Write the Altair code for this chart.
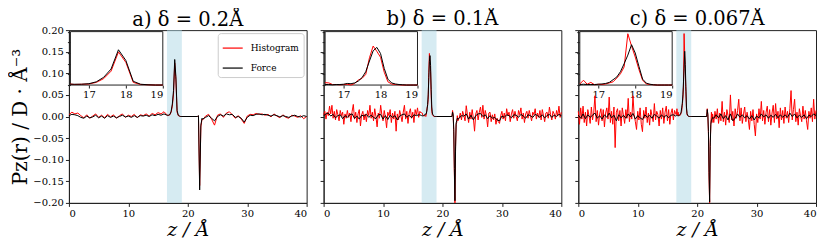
import altair as alt
import numpy as np
import pandas as pd

# ---------------- data ----------------
panel_titles = ["a) δ = 0.2Å", "b) δ = 0.1Å", "c) δ = 0.067Å"]
series_names = ["Histogram", "Force"]
series_colors = ["#ff0000", "#000000"]
x_ticks = [0, 10, 20, 30, 40]
y_ticks = [-0.20, -0.15, -0.10, -0.05, 0.00, 0.05, 0.10, 0.15, 0.20]
inset_x_ticks = [17, 18, 19]
inset_y_ticks = [0.0, 0.04, 0.08, 0.12, 0.16, 0.20]
z_domain = [0, 40]
p_domain = [-0.2, 0.2]
inset_z_domain = [16.5, 19.0]
inset_p_domain = [0.0, 0.2]
shade_band = [16.5, 19.0]

# segment grids (start z, step) for: left noise, peak, trough, right noise
grid_a_hist = [(0.0, 0.5), (16.6, 0.2), (21.6, 0.2), (22.5, 0.5)]
grid_a_force = [(0.0, 0.5), (16.6, 0.2), (21.6, 0.2), (22.5, 0.5)]
grid_b_hist = [(0.0, 0.2), (16.5, 0.1), (21.6, 0.1), (22.8, 0.2)]
grid_b_force = [(0.0, 0.4), (16.5, 0.1), (21.6, 0.1), (22.8, 0.4)]
grid_c_hist = [(0.0, 0.2), (16.5, 0.1), (21.6, 0.1), (22.8, 0.2)]
grid_c_force = [(0.0, 0.4), (16.5, 0.1), (21.6, 0.1), (22.8, 0.4)]

# ---- panel a ----
hist_a_left = [0.004, 0.010, 0.006, 0.008, 0.002, -0.003, 0.004, -0.004, 0.001, 0.006,
               -0.002, 0.003, -0.003, 0.005, -0.001, 0.004, -0.004, 0.002, 0.006, -0.002,
               0.003, 0.000, 0.005, -0.003, 0.004, 0.002, 0.006, 0.001, 0.007, 0.004,
               0.009, 0.006, 0.011, 0.004]
force_a_left = [0.002, 0.005, 0.004, 0.002, -0.002, -0.004, 0.001, -0.003, -0.001, 0.003,
                -0.003, 0.001, -0.004, 0.002, -0.002, 0.001, -0.003, 0.000, 0.003, -0.001,
                0.001, -0.002, 0.002, -0.002, 0.002, 0.001, 0.003, 0.000, 0.004, 0.002,
                0.005, 0.003, 0.006, 0.003]
hist_a_peak = [0.002, 0.003, 0.004, 0.010, 0.024, 0.052, 0.124, 0.085, 0.010, 0.002, 0.001, 0.0, 0.0]
force_a_peak = [0.003, 0.003, 0.005, 0.012, 0.029, 0.060, 0.132, 0.092, 0.014, 0.003, 0.001, 0.0, 0.0]
hist_a_trough = [0.0, 0.001, -0.160, -0.024, -0.006]
force_a_trough = [0.0, 0.002, -0.170, -0.020, -0.004]
hist_a_right = [-0.008, 0.001, 0.005, -0.006, -0.020, 0.003, 0.006, -0.002, 0.008, 0.011,
                0.004, -0.004, 0.002, -0.006, -0.016, 0.001, 0.005, 0.004, 0.007, 0.005,
                0.006, 0.003, 0.005, -0.001, 0.006, 0.001, -0.003, 0.004, -0.002, -0.004,
                0.003, 0.001, -0.002, 0.002, -0.005, 0.000]
force_a_right = [-0.006, -0.002, 0.002, -0.004, -0.010, 0.000, 0.004, 0.001, 0.006, 0.004,
                 0.005, -0.002, 0.000, -0.004, -0.013, -0.002, 0.003, 0.002, 0.005, 0.006,
                 0.004, 0.005, 0.003, 0.001, 0.004, 0.002, -0.001, 0.002, 0.000, -0.002,
                 0.001, 0.003, 0.000, -0.001, 0.002, 0.000]

# ---- panel b ----
hist_b_left = [0.004, 0.012, -0.006, 0.010, 0.002, 0.024, 0.006, 0.026, -0.004, 0.012,
               -0.008, 0.016, 0.004, -0.010, 0.014, 0.002, 0.010, -0.018, 0.006, -0.004,
               0.014, -0.002, 0.008, -0.012, 0.012, 0.028, -0.006, 0.010, -0.014, 0.006,
               0.016, -0.022, 0.004, 0.012, -0.008, 0.006, -0.012, 0.014, 0.002, 0.026,
               -0.004, 0.010, -0.010, 0.018, 0.000, -0.024, 0.008, -0.004, 0.026, 0.004,
               -0.010, 0.014, -0.002, -0.026, 0.010, 0.002, 0.016, -0.014, 0.008, -0.006,
               0.012, -0.034, 0.006, -0.008, 0.014, 0.002, -0.012, 0.010, 0.026, -0.006,
               0.012, -0.016, 0.008, 0.018, -0.004, 0.010, -0.014, 0.016, 0.004, 0.020,
               -0.002, 0.012, 0.008]
force_b_left = [0.002, 0.006, 0.008, 0.001, 0.005, -0.003, 0.002, 0.004, -0.005, 0.002,
                -0.002, 0.004, 0.006, -0.004, 0.001, -0.006, 0.003, 0.001, 0.005, -0.002,
                0.003, -0.002, -0.005, 0.004, 0.005, -0.006, 0.002, -0.007, 0.003, -0.002,
                0.002, -0.008, 0.001, 0.004, 0.006, -0.002, 0.003, -0.003, 0.004, 0.002,
                0.004, 0.003]
hist_b_peak = [0.009, 0.008, 0.002, 0.002, 0.001, 0.002, 0.003, 0.000, 0.006, 0.019,
               0.025, 0.040, 0.102, 0.146, 0.126, 0.104, 0.048, 0.012, 0.004, 0.002,
               0.001, 0.0, 0.0, 0.0, 0.0, 0.0]
force_b_peak = [0.002, 0.002, 0.001, 0.002, 0.002, 0.003, 0.006, 0.005, 0.008, 0.015,
                0.028, 0.050, 0.090, 0.128, 0.141, 0.118, 0.062, 0.022, 0.008, 0.004,
                0.002, 0.001, 0.0, 0.0, 0.0, 0.0]
hist_b_trough = [0.0, 0.014, 0.003, -0.035, -0.130, -0.200, -0.070, -0.018, -0.014, 0.002, -0.010]
force_b_trough = [0.0, 0.010, 0.004, -0.030, -0.120, -0.195, -0.080, -0.015, -0.010, -0.004, -0.006]
hist_b_right = [-0.004, 0.008, -0.008, 0.012, 0.002, -0.010, 0.025, 0.004, -0.014, 0.010,
                -0.006, 0.016, -0.004, -0.034, 0.006, 0.014, -0.008, 0.010, 0.022, -0.002,
                0.026, -0.006, 0.014, 0.002, -0.024, 0.008, 0.010, -0.012, 0.004, -0.008,
                0.006, -0.018, -0.004, -0.012, -0.016, 0.002, 0.012, -0.006, 0.008, -0.010,
                0.018, 0.002, 0.010, -0.012, 0.006, 0.016, -0.004, 0.012, 0.000, -0.010,
                0.014, 0.004, 0.020, -0.006, 0.008, -0.014, 0.006, 0.012, -0.004, 0.014,
                0.002, -0.010, 0.010, 0.004, 0.018, -0.006, 0.008, -0.002, 0.014, -0.008,
                0.016, 0.002, -0.012, 0.008, 0.010, -0.004, 0.022, 0.004, -0.008, 0.012,
                0.006, -0.006, 0.014, 0.002, 0.024, -0.002, 0.010]
force_b_right = [-0.004, 0.002, 0.001, 0.006, -0.006, 0.003, -0.008, 0.002, 0.006, 0.007,
                 0.000, 0.004, -0.005, 0.002, -0.004, -0.002, -0.008, -0.010, 0.001, -0.002,
                 0.004, 0.002, -0.003, 0.004, 0.003, -0.002, 0.005, 0.001, -0.004, 0.004,
                 0.002, -0.002, 0.005, 0.002, -0.002, 0.004, -0.003, 0.002, 0.005, -0.002,
                 0.003, 0.000, 0.005, 0.002]

# ---- panel c ----
hist_c_left = [0.012, -0.018, 0.020, -0.006, 0.024, -0.014, 0.010, -0.022, 0.016, 0.002,
               -0.016, 0.022, -0.008, 0.010, 0.048, -0.012, 0.014, -0.020, 0.006, 0.018,
               -0.010, 0.016, -0.024, 0.008, 0.020, -0.006, 0.045, -0.014, 0.012, -0.018,
               0.022, -0.072, 0.010, 0.018, -0.010, 0.014, -0.022, 0.020, 0.002, -0.016,
               0.016, -0.004, 0.042, -0.012, 0.010, -0.006, 0.048, 0.004, -0.012, -0.030,
               0.012, -0.008, 0.020, -0.018, -0.035, 0.014, -0.004, 0.022, -0.014, 0.008,
               -0.020, 0.016, 0.002, -0.012, 0.030, -0.008, 0.012, 0.004, -0.022, 0.014,
               -0.006, 0.020, -0.016, 0.010, 0.024, -0.010, 0.016, -0.018, 0.008, 0.018,
               -0.008, 0.014, 0.006]
force_c_left = [0.003, -0.004, 0.006, -0.005, 0.004, -0.002, 0.003, 0.008, -0.004, 0.002,
                -0.006, 0.004, -0.002, 0.008, -0.003, 0.003, -0.010, 0.004, -0.003, 0.003,
                -0.004, 0.006, -0.001, 0.007, -0.006, 0.002, -0.003, -0.007, 0.004, -0.002,
                0.003, -0.004, 0.005, 0.001, -0.004, 0.004, -0.002, 0.003, -0.003, 0.003,
                0.004, 0.001]
hist_c_peak = [0.004, 0.018, 0.003, 0.010, 0.001, 0.003, 0.002, 0.004, 0.008, 0.012,
               0.026, 0.042, 0.068, 0.192, 0.146, 0.105, 0.058, 0.018, 0.004, 0.002,
               0.001, 0.0, 0.0, 0.0, 0.0, 0.0]
force_c_peak = [0.002, 0.003, 0.002, 0.002, 0.002, 0.003, 0.004, 0.006, 0.010, 0.020,
                0.030, 0.050, 0.080, 0.112, 0.151, 0.120, 0.070, 0.022, 0.007, 0.003,
                0.001, 0.0, 0.0, 0.0, 0.0, 0.0]
hist_c_trough = [0.0, 0.018, 0.004, -0.040, -0.140, -0.200, -0.060, -0.020, 0.010, -0.014, 0.006]
force_c_trough = [0.0, 0.016, 0.004, -0.035, -0.130, -0.198, -0.070, -0.018, -0.008, -0.006, -0.002]
hist_c_right = [-0.014, 0.012, -0.006, 0.018, -0.016, 0.008, -0.010, 0.035, -0.012, 0.010,
                -0.020, 0.016, 0.002, -0.014, 0.050, -0.008, 0.012, -0.022, 0.018, -0.004,
                0.014, 0.040, -0.010, 0.020, -0.016, 0.006, 0.022, -0.012, 0.010, -0.006,
                -0.030, 0.012, -0.010, 0.016, -0.018, -0.045, 0.006, -0.014, 0.018, -0.006,
                0.035, -0.010, 0.014, -0.018, 0.010, 0.024, -0.012, 0.016, -0.020, 0.008,
                0.026, -0.014, 0.030, -0.006, 0.012, -0.026, 0.020, -0.008, 0.014, -0.016,
                0.022, -0.004, 0.012, -0.014, 0.018, 0.060, -0.008, 0.016, 0.040, -0.012,
                0.010, -0.020, 0.018, 0.002, -0.012, 0.024, -0.006, 0.014, -0.010, -0.030,
                0.012, -0.004, 0.020, -0.012, 0.040, -0.006, 0.014]
force_c_right = [-0.004, 0.004, -0.003, 0.006, -0.005, 0.002, -0.008, 0.006, -0.010, -0.004,
                 0.006, -0.002, 0.004, -0.003, 0.002, -0.006, 0.002, -0.008, 0.001, -0.003,
                 0.006, -0.001, 0.004, -0.004, 0.003, -0.002, 0.005, -0.003, 0.004, -0.002,
                 0.004, -0.002, 0.008, 0.000, 0.006, -0.003, 0.003, -0.002, 0.004, -0.005,
                 0.003, 0.000, 0.006, 0.002]

panels = [
    ((grid_a_hist, [hist_a_left, hist_a_peak, hist_a_trough, hist_a_right]),
     (grid_a_force, [force_a_left, force_a_peak, force_a_trough, force_a_right])),
    ((grid_b_hist, [hist_b_left, hist_b_peak, hist_b_trough, hist_b_right]),
     (grid_b_force, [force_b_left, force_b_peak, force_b_trough, force_b_right])),
    ((grid_c_hist, [hist_c_left, hist_c_peak, hist_c_trough, hist_c_right]),
     (grid_c_force, [force_c_left, force_c_peak, force_c_trough, force_c_right])),
]


def build_df(hist, force):
    rows = []
    for name, (grid, segs) in zip(series_names, [hist, force]):
        order = 0
        for (start, step), vals in zip(grid, segs):
            for k, v in enumerate(vals):
                rows.append({"series": name, "z": round(start + step * k, 4), "p": v, "o": order})
                order += 1
    return pd.DataFrame(rows)


# ---------------- chart ----------------
W, H = 238, 173
SERIF = "DejaVu Serif"
INSET_X_RANGE = [1.5, 94]
INSET_Y_RANGE = [55, 1.5]
TITLE_OFFSETS = [-5, 0, 0]   # panel a's bounds start above the plot (top tick label)

shade_df = pd.DataFrame({"lo": [shade_band[0]], "hi": [shade_band[1]],
                         "ylo": [p_domain[0]], "yhi": [p_domain[1]]})
box_df = pd.DataFrame({"lo": [inset_z_domain[0]], "hi": [inset_z_domain[1]],
                       "ylo": [inset_p_domain[0]], "yhi": [inset_p_domain[1]]})


def make_panel(i):
    hist_def, force_def = panels[i]
    df = build_df(hist_def, force_def)
    xs = alt.Scale(domain=z_domain, nice=False, zero=False)
    ys = alt.Scale(domain=p_domain, nice=False, zero=False)
    xaxis = alt.Axis(values=x_ticks, title="z / Å", titleFontSize=19, titleFontStyle="italic",
                     titleFontWeight="normal", titlePadding=2, labelPadding=2, format="d")
    yaxis = alt.Axis(values=y_ticks, format=".2f", labels=(i == 0),
                     title=("Pz(r) / D · Å⁻³" if i == 0 else None),
                     titleFontSize=20, titleFontWeight="normal", titlePadding=2, labelPadding=2)
    if i == 0:
        legend = alt.Legend(title=None, orient="top-right", offset=3, padding=4,
                            fillColor="white", strokeColor="#cccccc", cornerRadius=3,
                            labelFont=SERIF, labelFontSize=9, labelColor="black",
                            symbolType="stroke", symbolSize=400, symbolStrokeWidth=1.2,
                            rowPadding=4, labelOffset=7)
    else:
        legend = None
    color = alt.Color("series:N", scale=alt.Scale(domain=series_names, range=series_colors),
                      legend=legend)

    shade = alt.Chart(shade_df).mark_rect(color="#add8e6", opacity=0.5).encode(
        x=alt.X("lo:Q", scale=xs, axis=xaxis), x2="hi:Q",
        y=alt.Y("ylo:Q", scale=ys, axis=yaxis), y2="yhi:Q")
    base = alt.Chart(df)
    hist = base.transform_filter(alt.datum.series == "Histogram").mark_line(strokeWidth=1).encode(
        x=alt.X("z:Q", scale=xs, axis=xaxis), y=alt.Y("p:Q", scale=ys, axis=yaxis),
        color=color, order="o:Q")
    force = base.transform_filter(alt.datum.series == "Force").mark_line(strokeWidth=1).encode(
        x=alt.X("z:Q", scale=xs, axis=xaxis), y=alt.Y("p:Q", scale=ys, axis=yaxis),
        color=color, order="o:Q")
    main = alt.layer(shade, hist, force)

    ixs = alt.Scale(domain=inset_z_domain, range=INSET_X_RANGE, nice=False, zero=False)
    iys = alt.Scale(domain=inset_p_domain, range=INSET_Y_RANGE, nice=False, zero=False)
    ixaxis = alt.Axis(values=inset_x_ticks, orient="bottom", offset=-(H - INSET_Y_RANGE[0]),
                      title=None, domain=False, tickSize=3, format="d", labelPadding=1)
    iyaxis = alt.Axis(values=inset_y_ticks, orient="left", offset=-INSET_X_RANGE[0],
                      title=None, domain=False, labels=False, tickSize=3)
    box = alt.Chart(box_df).mark_rect(fill="white", stroke="#222", strokeWidth=1).encode(
        x=alt.X("lo:Q", scale=ixs, axis=ixaxis), x2="hi:Q",
        y=alt.Y("ylo:Q", scale=iys, axis=iyaxis), y2="yhi:Q")
    ibase = base.transform_filter(
        (alt.datum.z >= inset_z_domain[0]) & (alt.datum.z <= inset_z_domain[1]))
    ihist = ibase.transform_filter(alt.datum.series == "Histogram").mark_line(strokeWidth=1).encode(
        x=alt.X("z:Q", scale=ixs, axis=ixaxis), y=alt.Y("p:Q", scale=iys, axis=iyaxis),
        color=color, order="o:Q")
    iforce = ibase.transform_filter(alt.datum.series == "Force").mark_line(strokeWidth=1).encode(
        x=alt.X("z:Q", scale=ixs, axis=ixaxis), y=alt.Y("p:Q", scale=iys, axis=iyaxis),
        color=color, order="o:Q")
    inset = alt.layer(box, ihist, iforce)

    return alt.layer(main, inset).resolve_scale(x="independent", y="independent").properties(
        width=W, height=H,
        title=alt.TitleParams(panel_titles[i], anchor="middle", fontSize=19.5,
                              offset=TITLE_OFFSETS[i], frame="group"))


chart = alt.hconcat(make_panel(0), make_panel(1), make_panel(2), spacing=17, bounds="flush").resolve_scale(
    color="independent").resolve_legend(color="independent").configure_view(
    stroke="#222", strokeWidth=1).configure_axis(
    labelFont=SERIF, labelFontSize=10, labelColor="black", titleFont=SERIF, titleColor="black",
    tickColor="#222", domainColor="#222", grid=False, tickSize=3.5).configure_title(
    font=SERIF, color="black", fontWeight="normal").properties(
    background="white", padding={"left": 2, "top": 0, "right": 3, "bottom": 0})

chart.save("out.html", embed_options={"renderer": "svg", "actions": False})
